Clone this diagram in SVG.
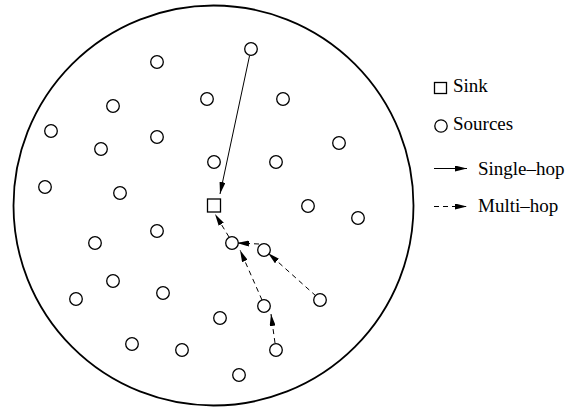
<svg xmlns="http://www.w3.org/2000/svg" width="583" height="408" viewBox="0 0 583 408">
  <style>
    .field { fill: none; stroke: #000; stroke-width: 1.8; }
    .src { fill: #fff; stroke: #000; stroke-width: 1.3; }
    .sink { fill: #fff; stroke: #000; stroke-width: 1.3; }
    .single { stroke: #000; stroke-width: 1; fill: none; marker-end: url(#head); }
    .multi { stroke: #000; stroke-width: 1; fill: none; stroke-dasharray: 5 4; marker-end: url(#head); }
    .lbl { font-family: "Liberation Serif", "Times New Roman", serif; font-size: 19px; fill: #000; }
  </style>
  <defs>
    <marker id="head" viewBox="0 0 12 6" refX="12" refY="3" markerWidth="12" markerHeight="6" markerUnits="userSpaceOnUse" orient="auto">
      <path d="M0,0 L12,3 L0,6 z" fill="#000"/>
    </marker>
  </defs>
  <rect width="583" height="408" fill="#fff"/>

  <!-- deployment field -->
  <circle class="field" cx="213.5" cy="205.5" r="200"/>

  <!-- connectors -->
  <g id="connectors">
    <line class="single" x1="249.6" y1="55.5" x2="220" y2="194"/>
    <line class="multi" x1="229" y1="237" x2="215" y2="214"/>
    <line class="multi" x1="259" y1="244" x2="237" y2="243"/>
    <line class="multi" x1="316" y1="296" x2="268" y2="253"/>
    <line class="multi" x1="262" y1="300" x2="240" y2="250"/>
    <line class="multi" x1="275" y1="343" x2="271" y2="314"/>
  </g>

  <!-- sink -->
  <g id="sink"><rect class="sink" x="207.5" y="199" width="13" height="13"/></g>

  <!-- sources -->
  <g id="n1"><circle class="src" cx="251" cy="49" r="6.3"/></g>
  <g id="n2"><circle class="src" cx="157" cy="62" r="6.3"/></g>
  <g id="n3"><circle class="src" cx="113" cy="106" r="6.3"/></g>
  <g id="n4"><circle class="src" cx="207" cy="99" r="6.3"/></g>
  <g id="n5"><circle class="src" cx="283" cy="99" r="6.3"/></g>
  <g id="n6"><circle class="src" cx="51" cy="131" r="6.3"/></g>
  <g id="n7"><circle class="src" cx="157" cy="137" r="6.3"/></g>
  <g id="n8"><circle class="src" cx="101" cy="149" r="6.3"/></g>
  <g id="n9"><circle class="src" cx="214" cy="162" r="6.3"/></g>
  <g id="n10"><circle class="src" cx="276" cy="162" r="6.3"/></g>
  <g id="n11"><circle class="src" cx="339" cy="143" r="6.3"/></g>
  <g id="n12"><circle class="src" cx="45" cy="187" r="6.3"/></g>
  <g id="n13"><circle class="src" cx="120" cy="193" r="6.3"/></g>
  <g id="n14"><circle class="src" cx="308" cy="206" r="6.3"/></g>
  <g id="n15"><circle class="src" cx="358" cy="218" r="6.3"/></g>
  <g id="n16"><circle class="src" cx="157" cy="231" r="6.3"/></g>
  <g id="n17"><circle class="src" cx="95" cy="243" r="6.3"/></g>
  <g id="n18"><circle class="src" cx="232" cy="243" r="6.3"/></g>
  <g id="n19"><circle class="src" cx="264" cy="250" r="6.3"/></g>
  <g id="n20"><circle class="src" cx="113" cy="281" r="6.3"/></g>
  <g id="n21"><circle class="src" cx="163" cy="293" r="6.3"/></g>
  <g id="n22"><circle class="src" cx="76" cy="299" r="6.3"/></g>
  <g id="n23"><circle class="src" cx="320" cy="300" r="6.3"/></g>
  <g id="n24"><circle class="src" cx="264" cy="306" r="6.3"/></g>
  <g id="n25"><circle class="src" cx="220" cy="318" r="6.3"/></g>
  <g id="n26"><circle class="src" cx="132" cy="344" r="6.3"/></g>
  <g id="n27"><circle class="src" cx="182" cy="350" r="6.3"/></g>
  <g id="n28"><circle class="src" cx="276" cy="350" r="6.3"/></g>
  <g id="n29"><circle class="src" cx="239" cy="375" r="6.3"/></g>

  <!-- legend -->
  <g id="legend">
    <rect class="sink" x="434.5" y="82.5" width="12" height="11" stroke-width="1.1"/>
    <text class="lbl" x="453" y="92">Sink</text>
    <circle class="src" cx="441" cy="126" r="6.2" stroke-width="1.1"/>
    <text class="lbl" x="453" y="130">Sources</text>
    <line class="single" x1="434" y1="168.5" x2="467" y2="168.5"/>
    <text class="lbl" x="478" y="175">Single–hop</text>
    <line class="multi" x1="434" y1="206.5" x2="467" y2="206.5" stroke-dasharray="3.5 4"/>
    <text class="lbl" x="478" y="212">Multi–hop</text>
  </g>
</svg>
